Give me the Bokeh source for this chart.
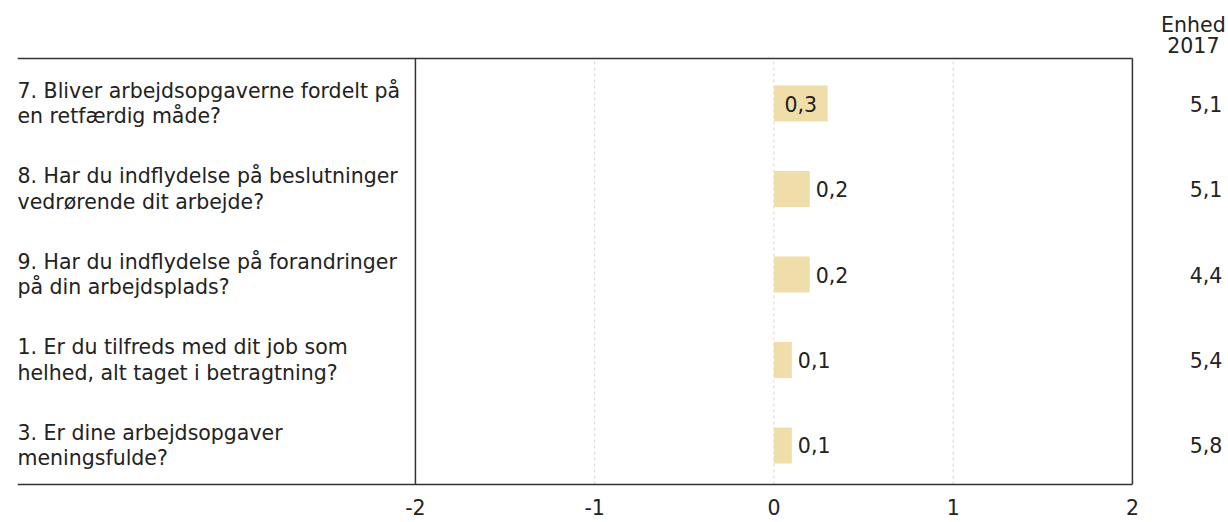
from bokeh.plotting import figure
from bokeh.models import Range1d, FixedTicker, ColumnDataSource
from bokeh.core.properties import value
from bokeh.embed import file_html
from bokeh.resources import INLINE

# Survey items, top to bottom
questions = [
    "7. Bliver arbejdsopgaverne fordelt på\nen retfærdig måde?",
    "8. Har du indflydelse på beslutninger\nvedrørende dit arbejde?",
    "9. Har du indflydelse på forandringer\npå din arbejdsplads?",
    "1. Er du tilfreds med dit job som\nhelhed, alt taget i betragtning?",
    "3. Er dine arbejdsopgaver\nmeningsfulde?",
]
differences = [0.3, 0.2, 0.2, 0.1, 0.1]
unit_2017 = [5.1, 5.1, 4.4, 5.4, 5.8]
header = ["Enhed", "2017"]
tick_values = [-2, -1, 0, 1, 2]
tick_labels = ["-2", "-1", "0", "1", "2"]
grid_values = [-1, 0, 1]

FONT = "DejaVu Sans"
FS = "20.5px"
TEXT_COLOR = "#222222"
LINE_COLOR = "#333333"
GRID_COLOR = "#d4d4d4"
BAR_COLOR = "#EFDDAA"


def fmt(v):
    return f"{v:.1f}".replace(".", ",")


n = len(questions)
ypos = [n - 1 - i for i in range(n)]

# the plotting area covers the whole page; the chart box sits inside it
X_MIN, X_MAX = tick_values[0], tick_values[-1]
X_START, X_END = -4.22, 2.536
Y_START, Y_END = -0.503, 5.205
BOX_TOP, BOX_BOTTOM = 4.526, -0.456
RIGHT_COL_X, HEADER_X = 2.502, 2.340
HEADER_Y = [4.924, 4.69]

p = figure(
    width=1228, height=522,
    x_range=Range1d(X_START, X_END), y_range=Range1d(Y_START, Y_END),
    output_backend="svg", toolbar_location=None, y_axis_location=None,
    min_border_left=17, min_border_right=0, min_border_top=0, min_border_bottom=34,
)
p.outline_line_color = None
p.background_fill_color = "white"
p.border_fill_color = "white"

# x axis: tick labels only
ax = p.xaxis[0]
ax.ticker = FixedTicker(ticks=tick_values)
ax.major_label_overrides = {t: s for t, s in zip(tick_values, tick_labels)}
ax.major_tick_line_color = None
ax.minor_tick_line_color = None
ax.major_tick_out = 0
ax.major_tick_in = 0
ax.major_label_standoff = 10
ax.major_label_text_font = FONT
ax.major_label_text_font_size = FS
ax.major_label_text_color = TEXT_COLOR
ax.axis_line_color = None

p.xgrid.grid_line_color = None
p.ygrid.grid_line_color = None

# dashed reference lines inside the box
p.segment(x0=grid_values, x1=grid_values, y0=[BOX_BOTTOM] * len(grid_values),
          y1=[BOX_TOP] * len(grid_values), line_color=GRID_COLOR, line_dash="3 3",
          line_width=1)

# box: full-width top and bottom rules, verticals at the axis ends
p.segment(x0=[X_START, X_START, X_MIN, X_MAX], x1=[X_MAX, X_MAX, X_MIN, X_MAX],
          y0=[BOX_TOP, BOX_BOTTOM, BOX_BOTTOM, BOX_BOTTOM],
          y1=[BOX_TOP, BOX_BOTTOM, BOX_TOP, BOX_TOP],
          line_color=LINE_COLOR, line_width=1.5)

# bars
src = ColumnDataSource(dict(y=ypos, v=differences))
p.hbar(y="y", left=0, right="v", height=0.42, source=src,
       fill_color=BAR_COLOR, line_color=None)

# value labels: inside the bar when it is wide enough, otherwise just right of it
inside = [v >= 0.25 for v in differences]
lab_src = ColumnDataSource(dict(
    x=[v / 2 if ins else v for v, ins in zip(differences, inside)],
    y=ypos,
    t=[fmt(v) for v in differences],
    off=[0 if ins else 6 for ins in inside],
    align=["center" if ins else "left" for ins in inside],
))
p.text(x="x", y="y", text="t", x_offset="off", text_align="align", source=lab_src,
       text_baseline="middle", text_font=value(FONT), text_font_size=FS,
       text_color=TEXT_COLOR)

# question texts on the left
q_src = ColumnDataSource(dict(x=[X_START] * n, y=ypos, t=questions))
p.text(x="x", y="y", text="t", source=q_src, text_align="left",
       text_baseline="middle", text_line_height=1.05,
       text_font=value(FONT), text_font_size=FS, text_color=TEXT_COLOR)

# reference column on the right
r_src = ColumnDataSource(dict(x=[RIGHT_COL_X] * n, y=ypos, t=[fmt(u) for u in unit_2017]))
p.text(x="x", y="y", text="t", source=r_src, text_align="right",
       text_baseline="middle", text_font=value(FONT), text_font_size=FS,
       text_color=TEXT_COLOR)

h_src = ColumnDataSource(dict(x=[HEADER_X] * len(header), y=HEADER_Y, t=header))
p.text(x="x", y="y", text="t", source=h_src, text_align="center",
       text_baseline="middle", text_font=value(FONT), text_font_size=FS,
       text_color=TEXT_COLOR)

open("out.html", "w").write(file_html(p, INLINE))
